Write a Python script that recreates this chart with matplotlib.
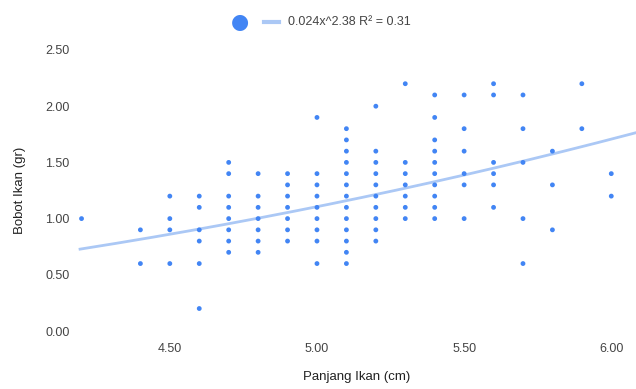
import numpy as np
import matplotlib.pyplot as plt

plt.rcParams['font.family'] = ['Liberation Sans', 'DejaVu Sans']

# Panjang (cm) -> list of Bobot (gr) values
panjang_vals = [4.2, 4.4, 4.5, 4.6, 4.7, 4.8, 4.9, 5.0, 5.1, 5.2,
                5.3, 5.4, 5.5, 5.6, 5.7, 5.8, 5.9, 6.0]
bobot_vals = [
    [1.0],
    [0.9, 0.6],
    [1.2, 1.0, 0.9, 0.6],
    [1.2, 1.1, 0.9, 0.8, 0.6, 0.2],
    [1.5, 1.4, 1.2, 1.1, 1.0, 0.9, 0.8, 0.7],
    [1.4, 1.2, 1.1, 1.0, 0.9, 0.8, 0.7],
    [1.4, 1.3, 1.2, 1.1, 1.0, 0.9, 0.8],
    [1.9, 1.4, 1.3, 1.2, 1.1, 1.0, 0.9, 0.8, 0.6],
    [1.8, 1.7, 1.6, 1.5, 1.4, 1.3, 1.2, 1.1, 1.0, 0.9, 0.8, 0.7, 0.6],
    [2.0, 1.6, 1.5, 1.4, 1.3, 1.2, 1.1, 1.0, 0.9, 0.8],
    [2.2, 1.5, 1.4, 1.3, 1.2, 1.1, 1.0],
    [2.1, 1.9, 1.7, 1.6, 1.5, 1.4, 1.3, 1.2, 1.1, 1.0],
    [2.1, 1.8, 1.6, 1.4, 1.3, 1.0],
    [2.2, 2.1, 1.5, 1.4, 1.3, 1.1],
    [2.1, 1.8, 1.5, 1.0, 0.6],
    [1.6, 1.3, 0.9],
    [2.2, 1.8],
    [1.4, 1.2],
]

# power trendline from the legend
coef_a = 0.024
coef_b = 2.38
trend_label = '0.024x^2.38 R² = 0.31'

x_ticks = [4.5, 5.0, 5.5, 6.0]
y_ticks = [0.0, 0.5, 1.0, 1.5, 2.0, 2.5]

xs = []
ys = []
for p, bs in zip(panjang_vals, bobot_vals):
    for b in bs:
        xs.append(p)
        ys.append(b)

fig = plt.figure(figsize=(6.36, 3.89), dpi=100)
ax = fig.add_axes([78 / 636, 58 / 389, 558 / 636, 281 / 389])

xlim = (4.188, 6.084)
tx = np.linspace(4.195, xlim[1], 200)
ax.plot(tx, coef_a * tx ** coef_b, color='#abc8f5', lw=2, zorder=1)
ax.scatter(xs, ys, s=12, color='#4285f4', edgecolors='none', zorder=2,
           clip_on=False)

ax.set_xlim(*xlim)
ax.set_ylim(0, 2.5)
ax.set_xticks(x_ticks)
ax.set_xticklabels(['%.2f' % v for v in x_ticks])
ax.set_yticks(y_ticks)
ax.set_yticklabels(['%.2f' % v for v in y_ticks])
for s in ax.spines.values():
    s.set_visible(False)
ax.tick_params(length=0, labelsize=9, colors='#444444')
ax.tick_params(axis='x', pad=9)
ax.tick_params(axis='y', pad=6)

ax.set_xlabel('Panjang Ikan (cm)', fontsize=9.5, color='#222222', labelpad=11)
ax.set_ylabel('Bobot Ikan (gr)', fontsize=9.5, color='#222222', labelpad=14)

# legend at top
fig.text(240 / 636, 1 - 22 / 389, '\u25CF', color='#4285f4', fontsize=15,
         ha='center', va='center', family='DejaVu Sans')
fig.add_artist(plt.Line2D([264 / 636, 279 / 636], [1 - 22 / 389, 1 - 22 / 389],
                          color='#abc8f5', lw=3))
fig.text(288 / 636, 1 - 22 / 389, trend_label, fontsize=9, color='#444444',
         ha='left', va='center')

fig.savefig('out.png', dpi=100)
